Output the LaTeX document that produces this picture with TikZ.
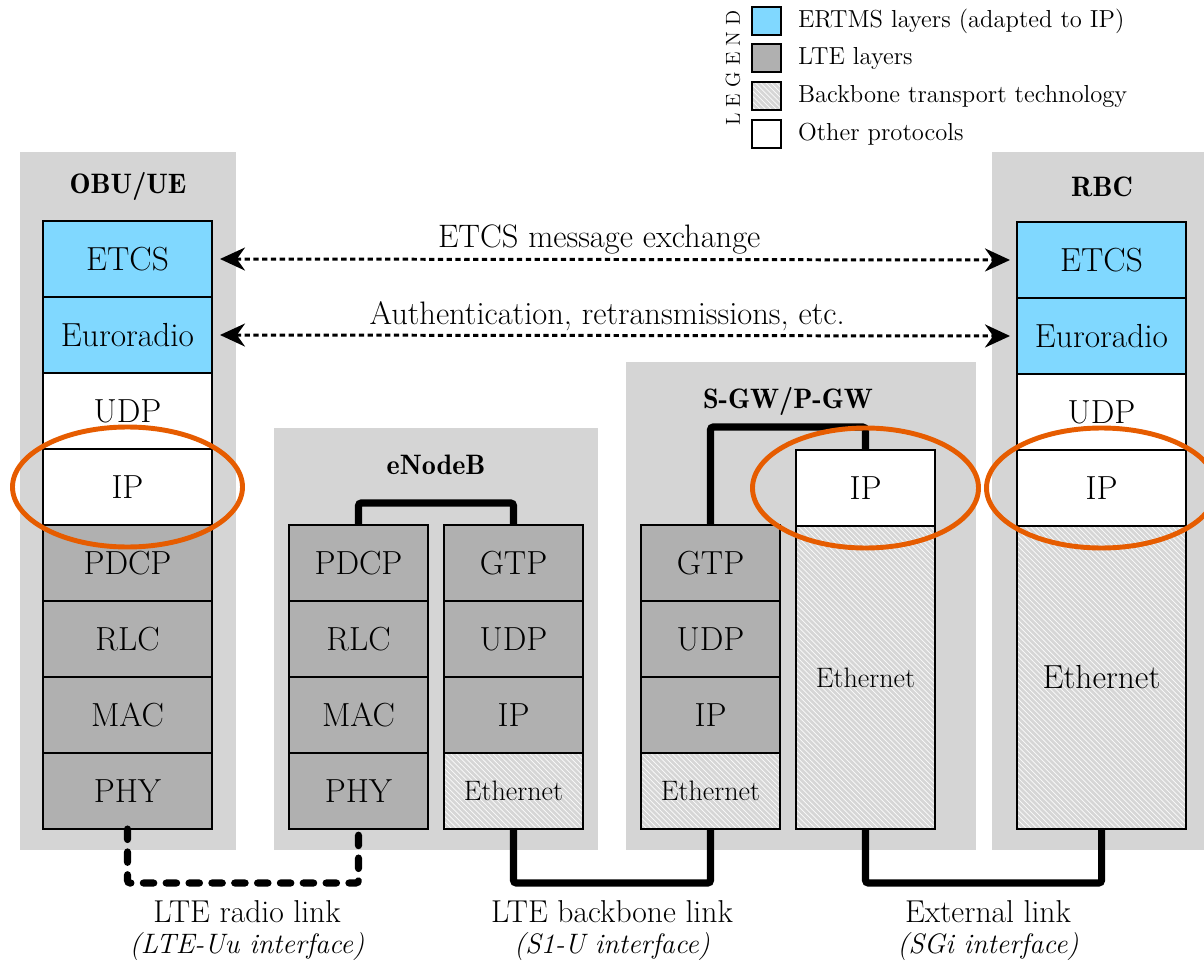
\documentclass[tikz,border=0pt]{standalone}
\usepackage{tikz}
\usetikzlibrary{shapes.geometric, positioning, arrows.meta, calc}
\usetikzlibrary{patterns}

\definecolor{ertmsblue}{RGB}{128,216,255}
\definecolor{ltegray}{RGB}{176,176,176}
\definecolor{stationgray}{RGB}{213,213,213}
\definecolor{hatchbase}{RGB}{214,214,214}
\definecolor{hlorange}{RGB}{230,92,0}

\begin{document}
\begin{tikzpicture}[node distance=0pt,
    station/.style={rectangle, fill=stationgray, anchor=south west, inner sep=0pt, outer sep=0pt},
    title/.style={anchor=base, font=\fontsize{16}{18}\fontseries{b}\selectfont},
    layer/.style={rectangle, draw, black, line width=0.8pt, minimum width=3.38cm, minimum height=1.52cm, inner sep=0pt, outer sep=0pt, font=\fontsize{19}{21}\selectfont},
    narrow/.style={layer, minimum width=2.78cm},
    tall/.style={minimum height=6.06cm},
    ertms/.style={fill=ertmsblue},
    lte/.style={fill=ltegray},
    backbone/.style={preaction={fill=hatchbase}, pattern=north west lines, pattern color=white!90!hatchbase},
    other/.style={fill=white},
    small/.style={font=\fontsize{16}{18}\selectfont},
    link/.style={draw, black, line width=4pt, rounded corners=1.5pt},
    radio/.style={link, line cap=round, dash pattern=on 6pt off 7pt},
    exchange/.style={draw, black, line width=1.7pt, dash pattern=on 3pt off 2pt, {Stealth[length=0.5cm, width=0.46cm]}-{Stealth[length=0.5cm, width=0.46cm]}},
    highlight/.style={ellipse, draw=hlorange, line width=2.8pt, minimum width=4.6cm, minimum height=2.4cm},
    linklabel/.style={anchor=base, font=\fontsize{18}{20}\selectfont},
    iflabel/.style={anchor=base, font=\fontsize{16}{18}\selectfont\itshape},
    legendbox/.style={rectangle, draw, black, line width=1pt, minimum width=0.58cm, minimum height=0.56cm, inner sep=0pt},
    legendtext/.style={font=\fontsize{14}{16}\selectfont}]

    \useasboundingbox (0,0) rectangle (24.08,19.24);

    % Grey boxes for the network elements
    \node[station, minimum width=4.32cm, minimum height=13.96cm] (obu) at (0.4,2.24) {};
    \node[station, minimum width=6.48cm, minimum height=8.44cm] (enb) at (5.48,2.24) {};
    \node[station, minimum width=7cm, minimum height=9.76cm] (gw) at (12.52,2.24) {};
    \node[station, minimum width=4.4cm, minimum height=13.96cm] (rbc) at (19.84,2.24) {};

    \node[title] (obu_title) at (2.56,15.36) {OBU/UE};
    \node[title] (enb_title) at (8.72,9.76) {eNodeB};
    \node[title] (gw_title) at (15.76,11.08) {S-GW/P-GW};
    \node[title] (rbc_title) at (22.04,15.3) {RBC};

    % OBU/UE stack
    \node[layer, lte, anchor=south] (obu_phy) at (2.55,2.66) {PHY};
    \node[layer, lte, above=of obu_phy] (obu_mac) {MAC};
    \node[layer, lte, above=of obu_mac] (obu_rlc) {RLC};
    \node[layer, lte, above=of obu_rlc] (obu_pdcp) {PDCP};
    \node[layer, other, above=of obu_pdcp] (obu_ip) {IP};
    \node[layer, other, above=of obu_ip] (obu_udp) {UDP};
    \node[layer, ertms, above=of obu_udp] (obu_euro) {Euroradio};
    \node[layer, ertms, above=of obu_euro] (obu_etcs) {ETCS};

    % eNodeB stacks
    \node[narrow, lte, anchor=south] (enb_phy) at (7.17,2.66) {PHY};
    \node[narrow, lte, above=of enb_phy] (enb_mac) {MAC};
    \node[narrow, lte, above=of enb_mac] (enb_rlc) {RLC};
    \node[narrow, lte, above=of enb_rlc] (enb_pdcp) {PDCP};

    \node[narrow, backbone, small, anchor=south] (enb_eth) at (10.27,2.66) {Ethernet};
    \node[narrow, lte, above=of enb_eth] (enb_ip) {IP};
    \node[narrow, lte, above=of enb_ip] (enb_udp) {UDP};
    \node[narrow, lte, above=of enb_udp] (enb_gtp) {GTP};

    % S-GW/P-GW stacks
    \node[narrow, backbone, small, anchor=south] (gwl_eth) at (14.21,2.66) {Ethernet};
    \node[narrow, lte, above=of gwl_eth] (gwl_ip) {IP};
    \node[narrow, lte, above=of gwl_ip] (gwl_udp) {UDP};
    \node[narrow, lte, above=of gwl_udp] (gwl_gtp) {GTP};

    \node[narrow, tall, backbone, small, anchor=south] (gwr_eth) at (17.31,2.66) {Ethernet};
    \node[narrow, other, above=of gwr_eth] (gwr_ip) {IP};

    % RBC stack
    \node[layer, tall, backbone, anchor=south] (rbc_eth) at (22.03,2.66) {Ethernet};
    \node[layer, other, above=of rbc_eth] (rbc_ip) {IP};
    \node[layer, other, above=of rbc_ip] (rbc_udp) {UDP};
    \node[layer, ertms, above=of rbc_udp] (rbc_euro) {Euroradio};
    \node[layer, ertms, above=of rbc_euro] (rbc_etcs) {ETCS};

    % Links inside the network elements
    \draw[link] (enb_pdcp.north) -- ++(0,0.44) -| (enb_gtp.north);
    \draw[link] (gwl_gtp.north) -- ++(0,1.96) -| (gwr_ip.north);

    % Links between the network elements
    \draw[radio] (obu_phy.south) -- ++(0,-1.08) -| (enb_phy.south);
    \draw[link] (enb_eth.south) -- ++(0,-1.08) -| (gwl_eth.south);
    \draw[link] (gwr_eth.south) -- ++(0,-1.08) -| (rbc_eth.south);

    \node[linklabel] (radio_lbl) at (4.94,0.8) {LTE radio link};
    \node[iflabel] (radio_if) at (4.94,0.18) {(LTE-Uu interface)};
    \node[linklabel] (backbone_lbl) at (12.24,0.8) {LTE backbone link};
    \node[iflabel] (backbone_if) at (12.24,0.18) {(S1-U interface)};
    \node[linklabel] (ext_lbl) at (19.76,0.8) {External link};
    \node[iflabel] (ext_if) at (19.76,0.18) {(SGi interface)};

    % End-to-end exchanges
    \draw[exchange] ([xshift=0.16cm]obu_etcs.east) -- ([xshift=-0.14cm]rbc_etcs.west)
        node[pos=0.48, above, inner sep=2pt, font=\fontsize{18.5}{20}\selectfont] {ETCS message exchange};
    \draw[exchange] ([xshift=0.16cm]obu_euro.east) -- ([xshift=-0.14cm]rbc_euro.west)
        node[pos=0.49, above, inner sep=2pt, font=\fontsize{18.5}{20}\selectfont] {Authentication, retransmissions, etc.};

    % IP layers highlighted
    \node[highlight] (obu_hl) at (obu_ip) {};
    \node[highlight, minimum width=4.52cm] (gw_hl) at (gwr_ip) {};
    \node[highlight] (rbc_hl) at (rbc_ip) {};

    % Legend
    \node[rotate=90, font=\fontsize{11.5}{12}\selectfont] (legend_title) at (14.66,17.88) {L\kern3.5pt E\kern3.5pt G\kern3.5pt E\kern3.5pt N\kern3.5pt D};
    \node[legendbox, ertms] (leg_ertms) at (15.33,18.82) {};
    \node[legendbox, lte] (leg_lte) at (15.33,18.08) {};
    \node[legendbox, backbone] (leg_backbone) at (15.33,17.32) {};
    \node[legendbox, other] (leg_other) at (15.33,16.56) {};
    \node[legendtext, right=0.2cm of leg_ertms] {ERTMS layers (adapted to IP)};
    \node[legendtext, right=0.2cm of leg_lte] {LTE layers};
    \node[legendtext, right=0.2cm of leg_backbone] {Backbone transport technology};
    \node[legendtext, right=0.2cm of leg_other] {Other protocols};

\end{tikzpicture}
\end{document}
